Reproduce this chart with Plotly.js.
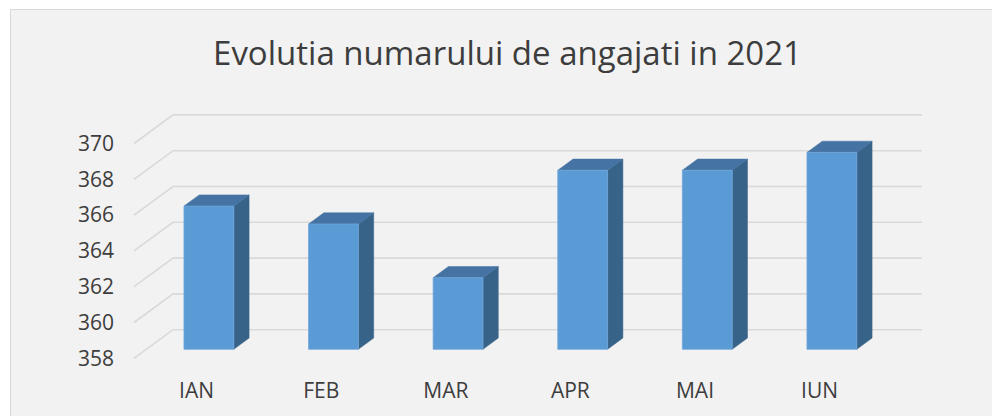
<!DOCTYPE html>
<html>
<head>
<meta charset="utf-8">
<script src="https://cdn.plot.ly/plotly-3.0.1.min.js"></script>
<style>
  html, body { margin: 0; padding: 0; background: #ffffff; }
  #wrap { position: relative; width: 992px; height: 416px; overflow: hidden; }
  #panel { position: absolute; left: 10px; top: 9px; width: 1000px; height: 420px;
           background: #f2f2f2; border-left: 1px solid #d9d9d9; border-top: 1px solid #d9d9d9; }
  #chart { position: absolute; left: 0; top: 0; width: 992px; height: 416px; }
</style>
</head>
<body>
<div id="wrap"><div id="panel"></div><div id="chart"></div></div>
<script>
// ---- data ----
const categories = ["IAN", "FEB", "MAR", "APR", "MAI", "IUN"];
const employees  = [366, 365, 362, 368, 368, 369];
const yTicks     = [358, 360, 362, 364, 366, 368, 370];
const chartTitle = "Evolutia numarului de angajati in 2021";

// ---- 3D projection settings (pixels) ----
const catStep = 124.6;    // px per category
const valStep = 17.9;     // px per unit value
const depthDX = 39, depthDY = 28.6;   // px shift from front plane to back wall
const barFront = 0.315, barBack = 0.707; // depth fractions of the bar faces
const halfW = 0.2;        // half bar width in category units
const baseVal = yTicks[0];

const L = 124, R = 936, T = 100, B = 372;
const cat0px = 196.6, v358px = 358.3;
const xRange = [(L - cat0px) / catStep, (R - cat0px) / catStep];
const yRange = [baseVal + (v358px - B) / valStep, baseVal + (v358px - T) / valStep];

function off(d) { return [depthDX * d / catStep, depthDY * d / valStep]; }

const traces = [];

// gridlines (floor-to-back-wall style)
const gx = [], gy = [];
const gLeft = (134 - cat0px) / catStep, gRight = (922 - cat0px) / catStep;
const [bx, by] = off(1);
yTicks.forEach(v => {
  gx.push(gLeft, gLeft + bx, gRight, null);
  gy.push(v, v + by, v + by, null);
});
traces.push({ x: gx, y: gy, type: 'scatter', mode: 'lines',
  line: { color: '#d9d9d9', width: 1.6 }, hoverinfo: 'skip' });

const [fx, fy] = off(barFront);
const [kx, ky] = off(barBack);

categories.forEach((c, i) => {
  const v = employees[i];
  // side face
  traces.push({ type: 'scatter', mode: 'lines', fill: 'toself',
    x: [i + halfW + fx, i + halfW + kx, i + halfW + kx, i + halfW + fx, i + halfW + fx],
    y: [baseVal + fy, baseVal + ky, v + ky, v + fy, baseVal + fy],
    fillcolor: '#386389', line: { color: '#386389', width: 0.5 }, hoverinfo: 'skip' });
  // top face
  traces.push({ type: 'scatter', mode: 'lines', fill: 'toself',
    x: [i - halfW + fx, i + halfW + fx, i + halfW + kx, i - halfW + kx, i - halfW + fx],
    y: [v + fy, v + fy, v + ky, v + ky, v + fy],
    fillcolor: '#4573a3', line: { color: '#4573a3', width: 0.5 }, hoverinfo: 'skip' });
  // front face
  traces.push({ type: 'scatter', mode: 'lines', fill: 'toself',
    x: [i - halfW + fx, i + halfW + fx, i + halfW + fx, i - halfW + fx, i - halfW + fx],
    y: [baseVal + fy, baseVal + fy, v + fy, v + fy, baseVal + fy],
    fillcolor: '#5b9bd5', line: { color: '#6fa6da', width: 0.8 }, hoverinfo: 'skip' });
});

const font = { family: 'Open Sans, sans-serif', color: '#3d3d3d', size: 21 };
const layout = {
  width: 992, height: 416,
  paper_bgcolor: 'rgba(0,0,0,0)', plot_bgcolor: 'rgba(0,0,0,0)',
  margin: { l: L, r: 992 - R, t: T, b: 416 - B },
  showlegend: false, hovermode: false,
  font: font,
  title: { text: chartTitle, font: { family: 'Open Sans, sans-serif', size: 33, color: '#3d3d3d' },
    xref: 'container', yref: 'container', x: 507.5 / 992, xanchor: 'center', y: 1 - 53 / 416, yanchor: 'middle' },
  xaxis: { range: xRange, tickvals: categories.map((c, i) => i), ticktext: categories,
    showgrid: false, zeroline: false, showline: false, ticks: '', ticklabelstandoff: 4,
    tickfont: font, fixedrange: true },
  yaxis: { range: yRange, tickvals: yTicks, ticktext: yTicks.map(String),
    showgrid: false, zeroline: false, showline: false, ticks: '', ticklabelstandoff: 9,
    tickfont: font, fixedrange: true }
};

Plotly.newPlot('chart', traces, layout, { displayModeBar: false, staticPlot: true });
</script>
</body>
</html>
